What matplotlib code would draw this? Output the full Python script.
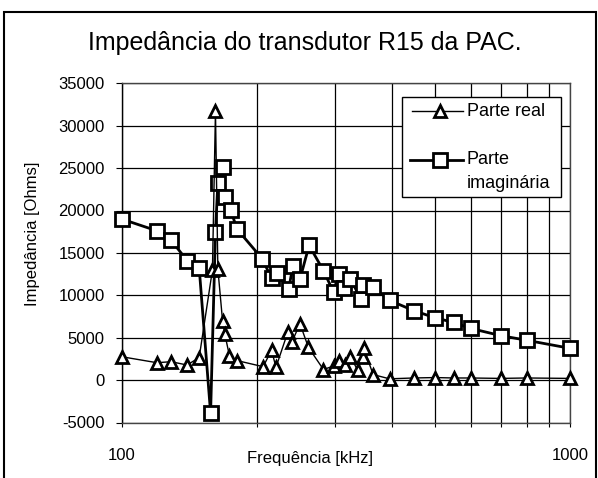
import matplotlib
matplotlib.use('Agg')
import matplotlib.pyplot as plt
from matplotlib.lines import Line2D
from matplotlib.patches import Rectangle
from matplotlib.ticker import FixedLocator, FixedFormatter, NullFormatter

# dados (frequencia em kHz, impedancia em Ohms)
freq_real = [100, 120, 129, 140, 149, 159.5, 162, 164, 168, 170, 174, 181,
             207, 216, 221, 235, 240, 250, 261, 282, 297, 305, 315, 324,
             336, 345, 347, 364, 396, 448, 500, 550, 600, 700, 800, 1000]
parte_real = [2760, 2050, 2170, 1780, 2650, 13000, 31700, 13100, 7000, 5400, 2900, 2300,
              1580, 3550, 1510, 5700, 4530, 6650, 3870, 1250, 1660, 2200, 1780, 2760,
              1190, 2760, 3750, 650, 150, 250, 300, 250, 250, 200, 250, 200]

freq_imag = [100, 120, 129, 140, 149, 158, 162, 164, 168, 170, 175, 181,
             206, 216, 222, 236, 241, 250, 262, 282, 297, 305, 313, 324,
             342, 346, 364, 396, 448, 500, 550, 600, 700, 800, 1000]
parte_imag = [19000, 17600, 16500, 14100, 13250, -3900, 17500, 23200, 25100, 21600, 20100, 17800,
              14300, 12000, 12600, 10750, 13450, 11900, 15900, 12900, 10400, 12500, 10850, 11900,
              9550, 11200, 11000, 9400, 8200, 7350, 6800, 6100, 5250, 4700, 3750]

y_ticks = list(range(-5000, 35001, 5000))
x_grid = [100, 200, 300, 400, 500, 600, 700, 800, 900, 1000]
x_labels = ['100', '1000']

plt.rcParams['font.family'] = ['Liberation Sans', 'DejaVu Sans']

W, H = 598, 478
fig = plt.figure(figsize=(W / 100, H / 100), dpi=100)
ax = fig.add_axes([121.5 / W, 1 - 422.5 / H, (570 - 121.5) / W, (422.5 - 83.3) / H])

ax.set_xscale('log')
ax.set_xlim(100, 1000)
ax.set_ylim(-5000, 35000)

# grade
ax.xaxis.set_major_locator(FixedLocator([100, 1000]))
ax.xaxis.set_major_formatter(FixedFormatter(x_labels))
ax.xaxis.set_minor_locator(FixedLocator(x_grid))
ax.xaxis.set_minor_formatter(NullFormatter())
ax.set_yticks(y_ticks)
ax.set_yticklabels([str(v) for v in y_ticks])
for v in x_grid:
    ax.axvline(v, color='black', lw=0.9, zorder=1)
for v in y_ticks:
    ax.axhline(v, color='black', lw=0.9, zorder=1)

ax.tick_params(axis='y', length=4, width=0.8, pad=8, labelsize=12, direction='out')
ax.tick_params(axis='x', which='both', length=3, width=0.8, pad=15, labelsize=12, direction='out')

for s in ['top', 'right', 'bottom']:
    ax.spines[s].set_linestyle((0, (1, 1)))
    ax.spines[s].set_color('#444444')
    ax.spines[s].set_linewidth(1)
ax.spines['left'].set_linewidth(1)

ax.plot(freq_imag, parte_imag, color='black', lw=2, marker='s', ms=10,
        mfc='white', mec='black', mew=2, zorder=3, clip_on=False)
ax.plot(freq_real, parte_real, color='black', lw=1, marker='^', ms=9,
        mfc='white', mec='black', mew=2, zorder=4, clip_on=False)

# legenda
fig.patches.append(Rectangle((401.7 / W, 1 - 197.3 / H), (560.7 - 401.7) / W, 100 / H,
                             transform=fig.transFigure, facecolor='white',
                             edgecolor='black', lw=1, zorder=5))
fig.lines.append(Line2D([411.7 / W, 463 / W], [1 - 111 / H, 1 - 111 / H],
                        transform=fig.transFigure, color='black', lw=1, zorder=6))
fig.lines.append(Line2D([440 / W], [1 - 111 / H], transform=fig.transFigure, color='black',
                        marker='^', ms=8, mfc='white', mew=2, zorder=7))
fig.lines.append(Line2D([410 / W, 463 / W], [1 - 160 / H, 1 - 160 / H],
                        transform=fig.transFigure, color='black', lw=2, zorder=6))
fig.lines.append(Line2D([440 / W], [1 - 160 / H], transform=fig.transFigure, color='black',
                        marker='s', ms=10, mfc='white', mew=2, zorder=7))
fig.text(467 / W, 1 - 111 / H, 'Parte real', fontsize=13, va='center', ha='left', zorder=8)
fig.text(467 / W, 1 - 160 / H, 'Parte', fontsize=13, va='center', ha='left', zorder=8)
fig.text(467 / W, 1 - 184 / H, 'imaginária', fontsize=13, va='center', ha='left', zorder=8)

# textos
fig.text(305 / W, 1 - 43 / H, 'Impedância do transdutor R15 da PAC.', fontsize=18,
         ha='center', va='center')
fig.text(310 / W, 1 - 459 / H, 'Frequência [kHz]', fontsize=12, ha='center', va='center')
fig.text(33 / W, 1 - 234 / H, 'Impedância [Ohms]', fontsize=12, ha='center', va='center',
         rotation=90)

# moldura externa
fig.patches.append(Rectangle((4 / W, -0.01), 592 / W, 1 - 12 / H + 0.01,
                             transform=fig.transFigure, facecolor='none',
                             edgecolor='black', lw=1.5))

fig.savefig('out.png', dpi=100)
